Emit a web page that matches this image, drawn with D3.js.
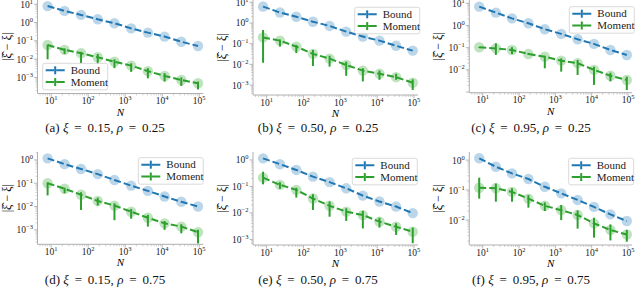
<!DOCTYPE html>
<html>
<head>
<script src="https://cdnjs.cloudflare.com/ajax/libs/d3/7.8.5/d3.min.js"></script>
<style>
  body { margin: 0; background: #fff; }
  svg { display: block; font-family: 'Liberation Serif', 'DejaVu Serif', serif; }
</style>
</head>
<body>
<svg id="fig" width="640" height="290"></svg>
<script>
// sample sizes (x axis)
var N = [8, 23, 64, 181, 512, 1448, 4096, 11585, 32768, 92682];

var LETTERS = ["a", "b", "c", "d", "e", "f"];
var XI  = ["0.15", "0.50", "0.95", "0.15", "0.50", "0.95"];
var RHO = ["0.25", "0.25", "0.25", "0.75", "0.75", "0.75"];
var SERIES = ["Bound", "Moment"];

// Bound curves
var bound_a = [7.9, 4.3, 2.6, 1.5, 0.91, 0.48, 0.28, 0.17, 0.089, 0.052];
var bound_b = [6.2, 3.2, 2.0, 1.15, 0.72, 0.38, 0.22, 0.14, 0.079, 0.046];
var bound_c = [7.1, 3.8, 2.1, 1.26, 0.68, 0.42, 0.24, 0.148, 0.079, 0.047];
var bound_d = [1.17, 0.66, 0.41, 0.245, 0.138, 0.079, 0.047, 0.027, 0.016, 0.010];
var bound_e = [1.15, 0.69, 0.42, 0.234, 0.145, 0.085, 0.045, 0.027, 0.0174, 0.0098];
var bound_f = [1.15, 0.60, 0.36, 0.234, 0.129, 0.078, 0.047, 0.0275, 0.0155, 0.0093];

// Moment estimator: mean, upper and lower end of error bar
var moment_a = [0.059, 0.032, 0.021, 0.0126, 0.0072, 0.0044, 0.0022, 0.0012, 0.00072, 0.00048];
var mhi_a    = [0.062, 0.039, 0.025, 0.019, 0.0098, 0.0059, 0.0032, 0.0017, 0.0010, 0.00059];
var mlo_a    = [0.0098, 0.019, 0.0059, 0.0054, 0.0032, 0.0020, 0.00089, 0.00059, 0.00034, 0.00022];

var moment_b = [0.20, 0.14, 0.072, 0.032, 0.019, 0.0093, 0.0050, 0.0035, 0.0024, 0.0013];
var mhi_b    = [0.46, 0.16, 0.087, 0.050, 0.026, 0.0135, 0.0065, 0.0050, 0.0035, 0.0019];
var mlo_b    = [0.012, 0.072, 0.035, 0.0083, 0.0078, 0.0028, 0.0015, 0.0018, 0.0018, 0.00058];

var moment_c = [0.105, 0.093, 0.079, 0.052, 0.039, 0.026, 0.020, 0.010, 0.0054, 0.0035];
var mhi_c    = [0.107, 0.158, 0.105, 0.058, 0.043, 0.033, 0.028, 0.0138, 0.0074, 0.0049];
var mlo_c    = [0.098, 0.047, 0.052, 0.047, 0.0118, 0.0083, 0.0059, 0.0021, 0.0030, 0.00123];

var moment_d = [0.100, 0.058, 0.032, 0.0174, 0.011, 0.0060, 0.0033, 0.0019, 0.00138, 0.00079];
var mhi_d    = [0.11, 0.065, 0.041, 0.024, 0.0138, 0.0079, 0.0044, 0.0024, 0.00174, 0.0010];
var mlo_d    = [0.030, 0.037, 0.0071, 0.011, 0.0026, 0.0030, 0.00138, 0.0010, 0.00071, 0.00026];

var moment_e = [0.214, 0.115, 0.074, 0.035, 0.0186, 0.0112, 0.0083, 0.0047, 0.0030, 0.00195];
var mhi_e    = [0.36, 0.145, 0.089, 0.051, 0.027, 0.015, 0.012, 0.0066, 0.0041, 0.0028];
var mlo_e    = [0.12, 0.081, 0.038, 0.0129, 0.0072, 0.0050, 0.0026, 0.0028, 0.00148, 0.00072];

var moment_f = [0.12, 0.115, 0.087, 0.052, 0.030, 0.0214, 0.0148, 0.0078, 0.0047, 0.0033];
var mhi_f    = [0.26, 0.166, 0.115, 0.068, 0.039, 0.032, 0.021, 0.012, 0.0072, 0.0047];
var mlo_f    = [0.052, 0.041, 0.041, 0.026, 0.020, 0.010, 0.0052, 0.0026, 0.0021, 0.0019];

var BOUNDS  = [bound_a, bound_b, bound_c, bound_d, bound_e, bound_f];
var MOMENTS = [moment_a, moment_b, moment_c, moment_d, moment_e, moment_f];
var MHI = [mhi_a, mhi_b, mhi_c, mhi_d, mhi_e, mhi_f];
var MLO = [mlo_a, mlo_b, mlo_c, mlo_d, mlo_e, mlo_f];

// y-axis ticks (exponents) per panel
var YTICKS = [[1, 0, -1, -2, -3], [1, 0, -1, -2, -3], [1, 0, -1, -2],
              [0, -1, -2, -3], [0, -1, -2, -3], [0, -1, -2]];
var XTICKS = [1, 2, 3, 4, 5];

// layout
var BLUE = "#1f77b4", GREEN = "#2ca02c";
var COL_X = [0, 213, 426];
var PLOT_L = [37.5, 253, 469.3], PLOT_R = [203.3, 418, 632];
var ROW_TOP = [0, 152];
var PLOT_B = [93.5, 95, 92.7, 244.3, 245, 245];
var YDOM = [[-3.88, 1.23], [-3.48, 1.11], [-3.03, 1.15], [-3.62, 0.34], [-3.21, 0.30], [-2.83, 0.27]];
var LEGEND_POS = [[42.7, 63.3], [354.7, 7.3], [569.3, 6.7], [138.3, 157.7], [352.3, 158.3], [568.7, 158.3]];
var CAPTION_Y = [131.5, 284];
var SPINE = "#b0b0b0";

var svg = d3.select("#fig");

function supLabel(sel, exp, big, small) {
  sel.append("tspan").attr("font-size", big).text("10");
  sel.append("tspan").attr("font-size", small).attr("dy", -big * 0.42)
     .text(exp < 0 ? "\u2212" + (-exp) : String(exp));
}

function drawPanel(p) {
  var col = p % 3, row = Math.floor(p / 3);
  var pl = PLOT_L[col], pr = PLOT_R[col];
  var pt = ROW_TOP[row], pb = PLOT_B[p];

  var x = d3.scaleLog().domain([Math.pow(10, 0.63), Math.pow(10, 5.11)]).range([pl, pr]);
  var y = d3.scaleLog().domain([Math.pow(10, YDOM[p][0]), Math.pow(10, YDOM[p][1])]).range([pb, pt]);

  var g = svg.append("g");

  // spines
  g.append("line").attr("x1", pl).attr("x2", pl).attr("y1", pt).attr("y2", pb)
    .attr("stroke", SPINE).attr("stroke-width", 1);
  g.append("line").attr("x1", pl).attr("x2", pr).attr("y1", pb).attr("y2", pb)
    .attr("stroke", SPINE).attr("stroke-width", 1);

  // x ticks (major + minor)
  for (var e = 0; e <= 5; e++) {
    for (var m = 1; m < 10; m++) {
      var xv = x(m * Math.pow(10, e));
      if (xv < pl || xv > pr) continue;
      g.append("line").attr("x1", xv).attr("x2", xv).attr("y1", pb)
        .attr("y2", pb + (m === 1 ? 3.5 : 2)).attr("stroke", SPINE).attr("stroke-width", m === 1 ? 0.9 : 0.6);
    }
  }
  XTICKS.forEach(function (ex) {
    var t = g.append("text").attr("x", x(Math.pow(10, ex))).attr("y", pb + 10.5)
      .attr("text-anchor", "middle").attr("fill", "#222");
    supLabel(t, ex, 9.5, 6.5);
  });

  // y ticks
  for (var ey = -4; ey <= 1; ey++) {
    for (var my = 1; my < 10; my++) {
      var yv = y(my * Math.pow(10, ey));
      if (yv < pt || yv > pb) continue;
      g.append("line").attr("x1", pl).attr("x2", pl - (my === 1 ? 3.5 : 2)).attr("y1", yv).attr("y2", yv)
        .attr("stroke", SPINE).attr("stroke-width", my === 1 ? 0.9 : 0.6);
    }
  }
  YTICKS[p].forEach(function (ex) {
    var t = g.append("text").attr("x", pl - 4.5).attr("y", y(Math.pow(10, ex)) + 3.5)
      .attr("text-anchor", "end").attr("fill", "#222");
    supLabel(t, ex, 9.5, 6.5);
  });

  // axis labels
  g.append("text").attr("x", (pl + pr) / 2).attr("y", pb + 22)
    .attr("text-anchor", "middle").attr("font-size", 11).attr("font-style", "italic").text("N");
  g.append("text")
    .attr("transform", "translate(" + (pl - 27) + "," + ((pt + pb) / 2) + ") rotate(-90)")
    .attr("text-anchor", "middle").attr("font-size", 12)
    .text("|\u03BE\u0302 \u2212 \u03BE|");

  // caption
  var cap = g.append("text").attr("x", COL_X[col] + 105).attr("y", CAPTION_Y[row])
    .attr("text-anchor", "middle").attr("font-size", 13).attr("fill", "#111");
  cap.append("tspan").text("(" + LETTERS[p] + ") ");
  cap.append("tspan").attr("font-style", "italic").text("\u03BE");
  cap.append("tspan").text(" \u2009=\u2009 " + XI[p] + ",  ");
  cap.append("tspan").attr("font-style", "italic").text("\u03C1");
  cap.append("tspan").text(" \u2009=\u2009 " + RHO[p]);

  // data
  var bd = N.map(function (n, i) { return {n: n, v: BOUNDS[p][i]}; });
  var md = N.map(function (n, i) { return {n: n, v: MOMENTS[p][i], hi: MHI[p][i], lo: MLO[p][i]}; });

  g.selectAll(null).data(bd).enter().append("circle")
    .attr("cx", function (d) { return x(d.n); }).attr("cy", function (d) { return y(d.v); })
    .attr("r", 5.2).attr("fill", BLUE).attr("fill-opacity", 0.3);
  g.selectAll(null).data(md).enter().append("circle")
    .attr("cx", function (d) { return x(d.n); }).attr("cy", function (d) { return y(d.v); })
    .attr("r", 5.2).attr("fill", GREEN).attr("fill-opacity", 0.3);

  var line = d3.line().x(function (d) { return x(d.n); }).y(function (d) { return y(d.v); });

  g.append("path").datum(bd).attr("d", line).attr("fill", "none")
    .attr("stroke", BLUE).attr("stroke-width", 2).attr("stroke-dasharray", "7,3");
  g.append("path").datum(md).attr("d", line).attr("fill", "none")
    .attr("stroke", GREEN).attr("stroke-width", 2).attr("stroke-dasharray", "7,3");

  g.selectAll(null).data(md).enter().append("line")
    .attr("x1", function (d) { return x(d.n); }).attr("x2", function (d) { return x(d.n); })
    .attr("y1", function (d) { return y(d.hi); }).attr("y2", function (d) { return y(d.lo); })
    .attr("stroke", GREEN).attr("stroke-width", 2);

  // legend
  var lx = LEGEND_POS[p][0], ly = LEGEND_POS[p][1];
  var lg = g.append("g");
  lg.append("rect").attr("x", lx).attr("y", ly).attr("width", 65).attr("height", 26.5)
    .attr("rx", 2).attr("fill", "#fff").attr("fill-opacity", 0.85)
    .attr("stroke", "#cfcfcf").attr("stroke-width", 0.8);
  SERIES.forEach(function (s, i) {
    var cy = ly + 7 + i * 11.8;
    var c = i === 0 ? BLUE : GREEN;
    lg.append("line").attr("x1", lx + 3).attr("x2", lx + 22).attr("y1", cy).attr("y2", cy)
      .attr("stroke", c).attr("stroke-width", 2).attr("stroke-dasharray", "8.5,2");
    lg.append("line").attr("x1", lx + 12.5).attr("x2", lx + 12.5).attr("y1", cy - 4).attr("y2", cy + 4)
      .attr("stroke", c).attr("stroke-width", 2);
    lg.append("text").attr("x", lx + 28).attr("y", cy + 3.6).attr("font-size", 11).attr("fill", "#222").text(s);
  });
}

for (var p = 0; p < 6; p++) drawPanel(p);
</script>
</body>
</html>
